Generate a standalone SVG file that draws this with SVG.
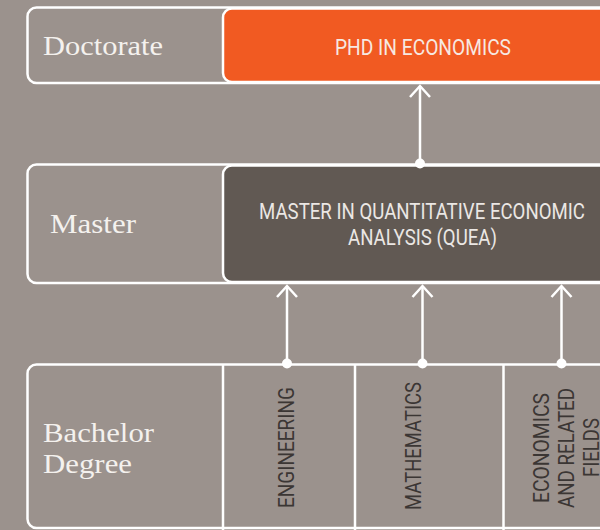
<svg xmlns="http://www.w3.org/2000/svg" width="600" height="530" viewBox="0 0 600 530">
  <style>
    .frame { fill: #9b928d; stroke: #ffffff; stroke-width: 2.5; }
    .cell { stroke: #ffffff; stroke-width: 2.5; }
    .serif { font-family: "Liberation Serif", "DejaVu Serif", serif; font-size: 28px; fill: #f4f1ee; }
    .sans { font-family: Roboto, "Liberation Sans", sans-serif; font-size: 22px; }
    .light { fill: #f6e9e2; }
    .pale { fill: #ebe7e4; }
    .dark { fill: #3b3634; }
    .conn { stroke: #ffffff; stroke-width: 2.5; fill: none; }
    .dot { fill: #ffffff; }
  </style>
  <rect x="0" y="0" width="600" height="530" fill="#9b928d"/>

  <g id="doctorate">
    <rect class="frame" x="27.5" y="7.5" width="600" height="75.5" rx="9"/>
    <rect class="cell" x="223" y="8.5" width="400" height="73.5" rx="9" fill="#f15a22"/>
    <text class="serif" x="43" y="54.5" textLength="120" lengthAdjust="spacingAndGlyphs">Doctorate</text>
    <text class="sans light" x="423" y="55" text-anchor="middle" textLength="176" lengthAdjust="spacingAndGlyphs">PHD IN ECONOMICS</text>
  </g>

  <g id="master">
    <rect class="frame" x="27.5" y="164.5" width="600" height="118.5" rx="9"/>
    <rect class="cell" x="223" y="165.5" width="400" height="116.5" rx="9" fill="#615953"/>
    <text class="serif" x="50" y="233" textLength="86" lengthAdjust="spacingAndGlyphs">Master</text>
    <text class="sans pale" x="422" y="219" text-anchor="middle" textLength="326" lengthAdjust="spacingAndGlyphs">MASTER IN QUANTITATIVE ECONOMIC</text>
    <text class="sans pale" x="422.5" y="245" text-anchor="middle" textLength="149" lengthAdjust="spacingAndGlyphs">ANALYSIS (QUEA)</text>
  </g>

  <g id="bachelor">
    <rect class="frame" x="27.5" y="364.5" width="600" height="163.5" rx="9"/>
    <line class="conn" x1="223" y1="364.5" x2="223" y2="530"/>
    <line class="conn" x1="355" y1="364.5" x2="355" y2="530"/>
    <line class="conn" x1="503.5" y1="364.5" x2="503.5" y2="530"/>
    <text class="serif" x="43" y="442" textLength="111" lengthAdjust="spacingAndGlyphs">Bachelor</text>
    <text class="serif" x="43" y="473" textLength="89" lengthAdjust="spacingAndGlyphs">Degree</text>
  </g>

  <g id="engineering">
    <text class="sans dark" transform="translate(293.5 447.5) rotate(-90)" text-anchor="middle" textLength="121" lengthAdjust="spacingAndGlyphs">ENGINEERING</text>
  </g>
  <g id="mathematics">
    <text class="sans dark" transform="translate(421 446) rotate(-90)" text-anchor="middle" textLength="128" lengthAdjust="spacingAndGlyphs">MATHEMATICS</text>
  </g>
  <g id="economics">
    <text class="sans dark" transform="translate(549 448) rotate(-90)" text-anchor="middle" textLength="110" lengthAdjust="spacingAndGlyphs">ECONOMICS</text>
    <text class="sans dark" transform="translate(574 448) rotate(-90)" text-anchor="middle" textLength="120" lengthAdjust="spacingAndGlyphs">AND RELATED</text>
    <text class="sans dark" transform="translate(599 447.5) rotate(-90)" text-anchor="middle" textLength="59" lengthAdjust="spacingAndGlyphs">FIELDS</text>
  </g>

  <g id="connectors">
    <line class="conn" x1="420" y1="163" x2="420" y2="86"/>
    <polyline class="conn" points="410,97 420,86 430,97"/>
    <circle class="dot" cx="420" cy="163.5" r="5"/>

    <line class="conn" x1="287" y1="363.5" x2="287" y2="286"/>
    <polyline class="conn" points="277,297 287,286 297,297"/>
    <circle class="dot" cx="287" cy="363.5" r="5"/>

    <line class="conn" x1="422.5" y1="363.5" x2="422.5" y2="286"/>
    <polyline class="conn" points="412.5,297 422.5,286 432.5,297"/>
    <circle class="dot" cx="422.5" cy="363.5" r="5"/>

    <line class="conn" x1="561.5" y1="363.5" x2="561.5" y2="286"/>
    <polyline class="conn" points="551.5,297 561.5,286 571.5,297"/>
    <circle class="dot" cx="561.5" cy="363.5" r="5"/>
  </g>
</svg>
